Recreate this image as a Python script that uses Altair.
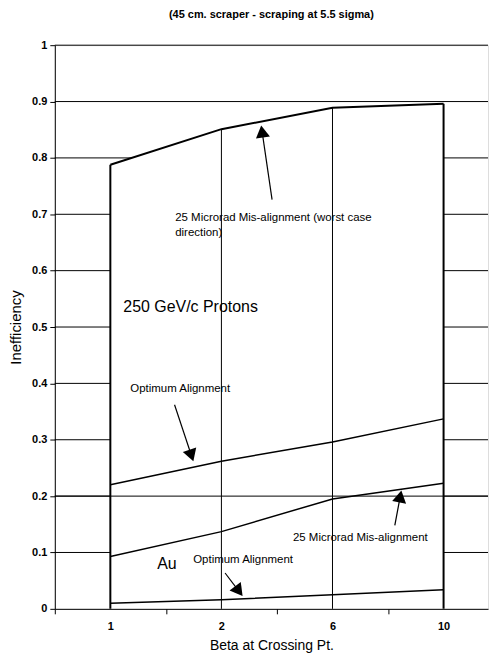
import altair as alt
import pandas as pd

# ---- data ----
categories = ["1", "2", "6", "10"]
worst_case = [0.788, 0.851, 0.889, 0.896]      # 25 microrad mis-alignment (protons)
opt_protons = [0.220, 0.262, 0.296, 0.337]     # optimum alignment (protons)
mis_au = [0.093, 0.137, 0.195, 0.223]          # 25 microrad mis-alignment (Au)
opt_au = [0.010, 0.016, 0.025, 0.034]          # optimum alignment (Au)

y_ticks = [0, 0.1, 0.2, 0.3, 0.4, 0.5, 0.6, 0.7, 0.8, 0.9, 1.0]
grid_lines = [0.1, 0.2, 0.3, 0.4, 0.5, 0.6, 0.7, 0.8, 0.9, 1.0]
cross_grid = [0.2]

# annotations (x in category-index units, y in data units)
small_text = ["25 Microrad Mis-alignment (worst case", "direction)",
              "Optimum Alignment", "25  Microrad Mis-alignment", "Optimum Alignment"]
small_x = [0.584, 0.584, 0.180, 1.644, 0.746]
small_y = [0.6926, 0.666, 0.3905, 0.1254, 0.0866]
big_text = ["250 GeV/c Protons", "Au"]
big_x = [0.117, 0.422]
big_y = [0.535, 0.0795]
arrow_tail_x = [1.456, 0.578, 2.561, 1.033]
arrow_tail_y = [0.726, 0.362, 0.148, 0.0636]
arrow_head_x = [1.366, 0.730, 2.610, 1.157]
arrow_head_y = [0.847, 0.272, 0.1995, 0.0316]
arrow_angle = [351.7, 161.7, 10.6, 142.8]

# ---- tables ----
idx = list(range(len(categories)))
series_df = pd.DataFrame({
    "x": idx * 4,
    "y": worst_case + opt_protons + mis_au + opt_au,
    "s": ["worst"] * 4 + ["optp"] * 4 + ["misau"] * 4 + ["optau"] * 4,
})
top_df = pd.DataFrame({"x": idx, "y": worst_case, "y2": [0] * len(idx),
                       "edge": [i in (0, len(idx) - 1) for i in idx]})
grid_df = pd.DataFrame({"y": grid_lines})
cross_df = pd.DataFrame({"y": cross_grid})
small_df = pd.DataFrame({"x": small_x, "y": small_y, "t": small_text})
big_df = pd.DataFrame({"x": big_x, "y": big_y, "t": big_text})
arrow_lines = pd.DataFrame({
    "x": arrow_tail_x + arrow_head_x,
    "y": arrow_tail_y + arrow_head_y,
    "a": list(range(4)) * 2,
})
arrow_heads = pd.DataFrame({"x": arrow_head_x, "y": arrow_head_y, "ang": arrow_angle})

FONT = "Liberation Sans, Arial, Helvetica, sans-serif"

x_vals = [i - 0.5 for i in idx] + idx
lbl_arr = "[" + ",".join("'%s'" % c for c in categories) + "]"
x_axis = alt.Axis(
    values=x_vals,
    labelExpr="datum.value % 1 == 0 ? " + lbl_arr + "[datum.value] : ''",
    tickOpacity={"condition": {"test": "datum.value % 1 == 0", "value": 0}, "value": 1},
    grid=False, title="Beta at Crossing Pt.", titleFontSize=14, titleFontWeight="normal",
    titlePadding=7, labelFontSize=11, labelFontWeight="bold", labelPadding=7,
    tickSize=5, domainColor="black", tickColor="black", labelColor="black",
    titleColor="black", labelFont=FONT, titleFont=FONT, zindex=1, labelAngle=0,
)
y_axis = alt.Axis(
    values=y_ticks, format=".1~f", grid=False, title="Inefficiency",
    titleFontSize=15, titleFontWeight="normal", titlePadding=8,
    labelFontSize=11, labelFontWeight="bold", labelPadding=3, tickSize=5,
    domainColor="black", tickColor="black", labelColor="black",
    titleColor="black", labelFont=FONT, titleFont=FONT, zindex=1,
)
xs = alt.Scale(domain=[-0.5, 3.4], nice=False, zero=False)
ys = alt.Scale(domain=[0, 1], nice=False)


def X(f="x"):
    return alt.X(f + ":Q", scale=xs, axis=x_axis)


def Y(f="y"):
    return alt.Y(f + ":Q", scale=ys, axis=y_axis)


grid = alt.Chart(grid_df).mark_rule(color="black", strokeWidth=1).encode(y=Y())
area = alt.Chart(top_df).mark_area(color="white", opacity=1).encode(x=X(), y=Y(), y2="y2:Q")
cross = alt.Chart(cross_df).mark_rule(color="black", strokeWidth=1).encode(y=Y())
drops_thin = alt.Chart(top_df).transform_filter("!datum.edge").mark_rule(
    color="black", strokeWidth=1).encode(x=X(), y=Y(), y2="y2:Q")
drops_edge = alt.Chart(top_df).transform_filter("datum.edge").mark_rule(
    color="black", strokeWidth=2).encode(x=X(), y=Y(), y2="y2:Q")
top_line = alt.Chart(series_df).transform_filter("datum.s == 'worst'").mark_line(
    color="black", strokeWidth=2).encode(x=X(), y=Y())
other_lines = alt.Chart(series_df).transform_filter("datum.s != 'worst'").mark_line(
    color="black", strokeWidth=1.5).encode(x=X(), y=Y(), detail="s:N")
small_lbl = alt.Chart(small_df).mark_text(
    align="left", baseline="middle", fontSize=11.5, font=FONT, color="black"
).encode(x=X(), y=Y(), text="t:N")
big_lbl = alt.Chart(big_df).mark_text(
    align="left", baseline="middle", fontSize=16, font=FONT, color="black"
).encode(x=X(), y=Y(), text="t:N")
arr_l = alt.Chart(arrow_lines).mark_line(color="black", strokeWidth=1.2).encode(
    x=X(), y=Y(), detail="a:N")
arr_h = alt.Chart(arrow_heads).mark_point(
    shape="triangle-up", filled=True, color="black", size=200, opacity=1
).encode(x=X(), y=Y(), angle=alt.Angle("ang:Q", scale=None))

chart = alt.layer(
    grid, area, cross, drops_thin, drops_edge, top_line, other_lines,
    small_lbl, big_lbl, arr_l, arr_h
).properties(
    width=435, height=566, padding=0,
    title=alt.TitleParams("(45 cm. scraper - scraping at 5.5 sigma)", fontSize=11,
                          fontWeight="bold", font=FONT, color="black", offset=19,
                          anchor="middle"),
).configure_view(stroke=None).configure(background="white")

chart.save("out.html", embed_options={"renderer": "svg", "actions": False})
